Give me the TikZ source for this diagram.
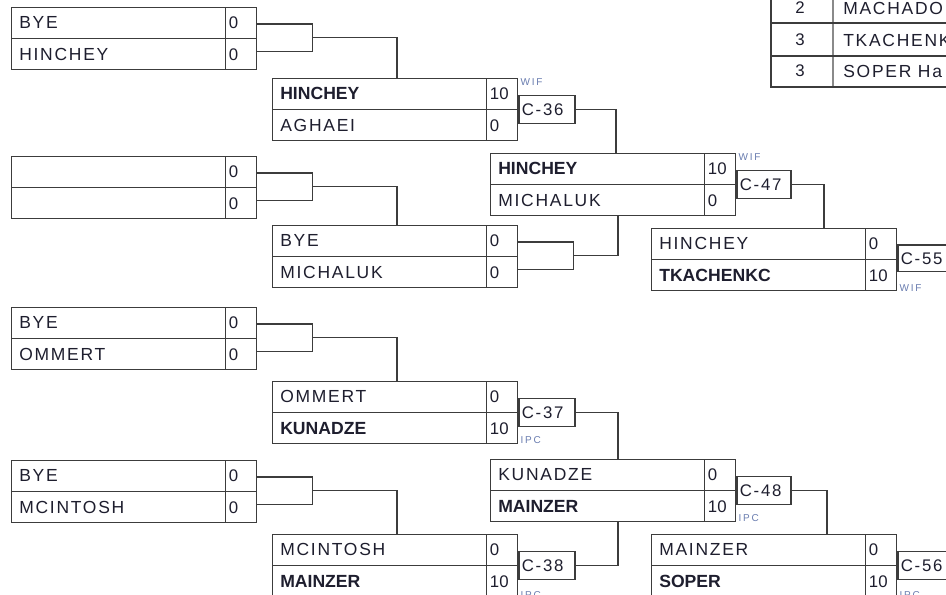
\documentclass[tikz,border=0pt]{standalone}
\usepackage{fontspec}
\setmainfont{Liberation Sans}
\newfontfamily\regsp[LetterSpace=10]{Liberation Sans}
\newfontfamily\lblsp[LetterSpace=18]{Liberation Sans}
\usetikzlibrary{calc}
\definecolor{linec}{HTML}{3C3C3C}
\definecolor{txtc}{HTML}{1E1E2E}
\definecolor{lblc}{HTML}{6A7DB0}
\definecolor{tblgray}{HTML}{8A8A8A}
\tikzset{
  lnst/.style={draw=linec, line width=1pt},
  mboxst/.style={lnst, rectangle, anchor=north west, minimum width=183.75pt, minimum height=46.5pt, inner sep=0pt},
  nmst/.style={anchor=west, inner sep=0pt, font=\fontsize{13.1}{14}\selectfont\regsp, text=txtc},
  nmbst/.style={anchor=west, inner sep=0pt, font=\fontsize{13.2}{14}\selectfont\bfseries, text=txtc},
  scst/.style={anchor=west, inner sep=0pt, font=\fontsize{12.6}{14}\selectfont, text=txtc},
  boutst/.style={lnst, rectangle, anchor=west, minimum width=42pt, minimum height=21pt, inner sep=0pt},
  bouttxt/.style={anchor=west, inner sep=0pt, font=\fontsize{12.6}{14}\selectfont\regsp, text=txtc},
  reslbl/.style={inner sep=0pt, font=\fontsize{7.5}{8}\selectfont\lblsp, text=lblc},
  tblline/.style={draw=linec, line width=0.9pt},
}
% name, x, y, style1, text1, score1, style2, text2, score2
\newcommand{\matchbx}[9]{%
  \node[mboxst] (#1) at (#2,#3) {};
  \draw[lnst] (#1.west) -- (#1.east);
  \draw[lnst] ([xshift=-24pt]#1.north east) -- ([xshift=-24pt]#1.south east);
  \node[#4] (#1-t) at ($(#1.north west)!0.25!(#1.south west)+(6pt,0)$) {#5};
  \node[scst] (#1-ts) at ($(#1.north east)!0.25!(#1.south east)+(-21.5pt,0)$) {#6};
  \node[#7] (#1-b) at ($(#1.north west)!0.75!(#1.south west)+(6pt,0)$) {#8};
  \node[scst] (#1-bs) at ($(#1.north east)!0.75!(#1.south east)+(-21.5pt,0)$) {#9};
}
% bracket: box name, output coordinate name
\newcommand{\brk}[2]{%
  \draw[lnst] ([yshift=-12.75pt]#1.north east) -- ++(41.25pt,0) |- ([yshift=14.25pt]#1.south east);
  \coordinate (#2) at ($([yshift=-12.75pt]#1.north east)!0.5!([yshift=14.25pt]#1.south east)+(41.25pt,0)$);
}
\begin{document}
\begin{tikzpicture}[x=0.75pt,y=-0.75pt]
\useasboundingbox (0,0) rectangle (946,594);
\clip (0,0) rectangle (946,594);
\fill[white] (0,0) rectangle (946,594);

% Round 1
\matchbx{A1}{11}{7}{nmst}{BYE}{0}{nmst}{HINCHEY}{0}
\matchbx{A2}{11}{156}{nmst}{}{0}{nmst}{}{0}
\matchbx{A3}{11}{307}{nmst}{BYE}{0}{nmst}{OMMERT}{0}
\matchbx{A4}{11}{460}{nmst}{BYE}{0}{nmst}{MCINTOSH}{0}
% Round 2
\matchbx{B1}{272}{78}{nmbst}{HINCHEY}{10}{nmst}{AGHAEI}{0}
\matchbx{B2}{272}{225}{nmst}{BYE}{0}{nmst}{MICHALUK}{0}
\matchbx{B3}{272}{381}{nmst}{OMMERT}{0}{nmbst}{KUNADZE}{10}
\matchbx{B4}{272}{534}{nmst}{MCINTOSH}{0}{nmbst}{MAINZER}{10}
% Round 3
\matchbx{C1}{490}{153}{nmbst}{HINCHEY}{10}{nmst}{MICHALUK}{0}
\matchbx{C2}{490}{459}{nmst}{KUNADZE}{0}{nmbst}{MAINZER}{10}
% Round 4
\matchbx{D1}{651}{228}{nmst}{HINCHEY}{0}{nmbst}{TKACHENKC}{10}
\matchbx{D2}{651}{534}{nmst}{MAINZER}{0}{nmbst}{SOPER}{10}

% brackets from round 1 and bye match
\brk{A1}{a1o}
\brk{A2}{a2o}
\brk{A3}{a3o}
\brk{A4}{a4o}
\brk{B2}{b2o}

% bout boxes
\node[boutst] (c36) at (B1.east) {};
\node[bouttxt] (c36t) at ([xshift=2.5pt]c36.west) {C-36};
\node[boutst] (c37) at (B3.east) {};
\node[bouttxt] (c37t) at ([xshift=2.5pt]c37.west) {C-37};
\node[boutst] (c38) at (B4.east) {};
\node[bouttxt] (c38t) at ([xshift=2.5pt]c38.west) {C-38};
\node[boutst, minimum width=40.5pt] (c47) at (C1.east) {};
\node[bouttxt] (c47t) at ([xshift=2.5pt]c47.west) {C-47};
\node[boutst, minimum width=40.5pt] (c48) at (C2.east) {};
\node[bouttxt] (c48t) at ([xshift=2.5pt]c48.west) {C-48};
\node[boutst, minimum width=60pt, minimum height=20pt] (c55) at ([yshift=1pt]D1.east) {};
\node[bouttxt] (c55t) at ([xshift=2.5pt]c55.west) {C-55};
\node[boutst, minimum width=60pt] (c56) at (D2.east) {};
\node[bouttxt] (c56t) at ([xshift=2.5pt]c56.west) {C-56};

% result labels
\node[reslbl, anchor=north west] (w36) at ([xshift=1.5pt]B1.north east) {WIF};
\node[reslbl, anchor=north west] (w47) at ([xshift=1.5pt]C1.north east) {WIF};
\node[reslbl, anchor=south west] (w55) at ([xshift=1.5pt]D1.south east) {WIF};
\node[reslbl, anchor=south west] (w37) at ([xshift=1.5pt]B3.south east) {IPC};
\node[reslbl, anchor=south west] (w38) at ([xshift=1.5pt,yshift=-1pt]B4.south east) {IPC};
\node[reslbl, anchor=south west] (w48) at ([xshift=1.5pt]C2.south east) {IPC};
\node[reslbl, anchor=south west] (w56) at ([xshift=1.5pt,yshift=-1pt]D2.south east) {IPC};

% connectors
\draw[lnst] (a1o) -| ([xshift=93.75pt]B1.north west);
\draw[lnst] (a2o) -| ([xshift=93.75pt]B2.north west);
\draw[lnst] (a3o) -| ([xshift=93.75pt]B3.north west);
\draw[lnst] (a4o) -| ([xshift=93.75pt]B4.north west);
\draw[lnst] (c36.east) -| ([xshift=94.5pt]C1.north west);
\draw[lnst] (b2o) -| ([xshift=96pt]C1.south west);
\draw[lnst] (c37.east) -| ([xshift=96pt]C2.north west);
\draw[lnst] (c38.east) -| ([xshift=96pt]C2.south west);
\draw[lnst] (c47.east) -| ([xshift=129.75pt]D1.north west);
\draw[lnst] (c48.east) -| ([xshift=132pt]D2.north west);

% standings table (top right)
\draw[tblline, draw=tblgray, line width=1.2pt] (833,-5) -- (833,87);
\draw[tblline] (771,23) -- (950,23);
\draw[tblline] (771,56) -- (950,56);
\draw[tblline, line width=1.6pt] (771,-5) -- (771,87) -- (950,87);
\node[scst, anchor=center] (t1n) at (800,8) {2};
\node[scst, anchor=center] (t2n) at (800,40) {3};
\node[scst, anchor=center] (t3n) at (800,71) {3};
\node[nmst] (t1) at (843,8) {MACHADO};
\node[nmst] (t2) at (843,40) {TKACHENK};
\node[nmst] (t3) at (843,71) {SOPER Ha};
\end{tikzpicture}
\end{document}
